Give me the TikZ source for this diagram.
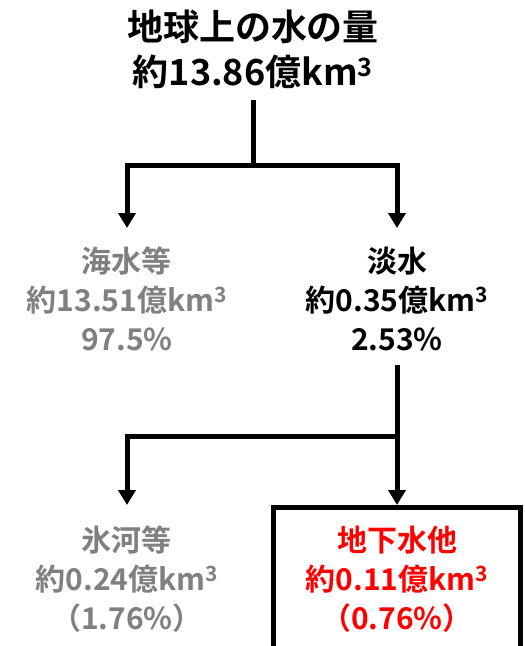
\documentclass[tikz,border=0pt]{standalone}
\usepackage{fontspec}
\setmainfont{Noto Sans CJK JP}[BoldFont={Noto Sans CJK JP Bold}]
\usetikzlibrary{arrows.meta}
\definecolor{grayt}{HTML}{808080}
\definecolor{redt}{HTML}{FF0000}
\newcommand{\cubic}{\textsuperscript{3}}
\tikzset{
  conn/.style={line width=5pt},
  arr/.style={line width=5pt,-{Triangle[width=17pt,length=15pt]}},
  titletext/.style={align=center,font=\bfseries\fontsize{36}{45}\selectfont,inner sep=0pt},
  blocktext/.style={align=center,font=\bfseries\fontsize{30}{39}\selectfont,inner sep=0pt},
  boxframe/.style={draw,line width=5pt,minimum width=247pt,minimum height=150pt,inner sep=0pt},
}
\begin{document}
\begin{tikzpicture}[x=1pt,y=-1pt]
\path[use as bounding box,clip] (0,0) rectangle (525,646);
\node[titletext] (top) at (253,49) {地球上の水の量\\約13.86億km\cubic};
\node[blocktext,text=grayt] (sea) at (127,299) {海水等\\約13.51億km\cubic\\97.5\%};
\node[blocktext] (fresh) at (397,299) {淡水\\約0.35億km\cubic\\2.53\%};
\node[blocktext,text=grayt] (ice) at (127,579) {氷河等\\約0.24億km\cubic\\（1.76\%）};
\node[boxframe] (gwbox) at (397,582.5) {};
\node[blocktext,text=redt] (gw) at (397,579) {地下水他\\約0.11億km\cubic\\（0.76\%）};
\coordinate (j1) at (253,165);
\coordinate (j2) at (397,436);
\coordinate (seatop) at (127,228);
\coordinate (freshtop) at (397,228);
\coordinate (icetop) at (127,505);
\draw[conn] (253,100) -- (j1);
\draw[arr] (j1) -| (seatop);
\draw[arr] (j1) -| (freshtop);
\draw[conn] (397,365) -- (j2);
\draw[arr] (j2) -| (icetop);
\draw[arr] (j2) -- (gwbox.north);
\end{tikzpicture}
\end{document}
